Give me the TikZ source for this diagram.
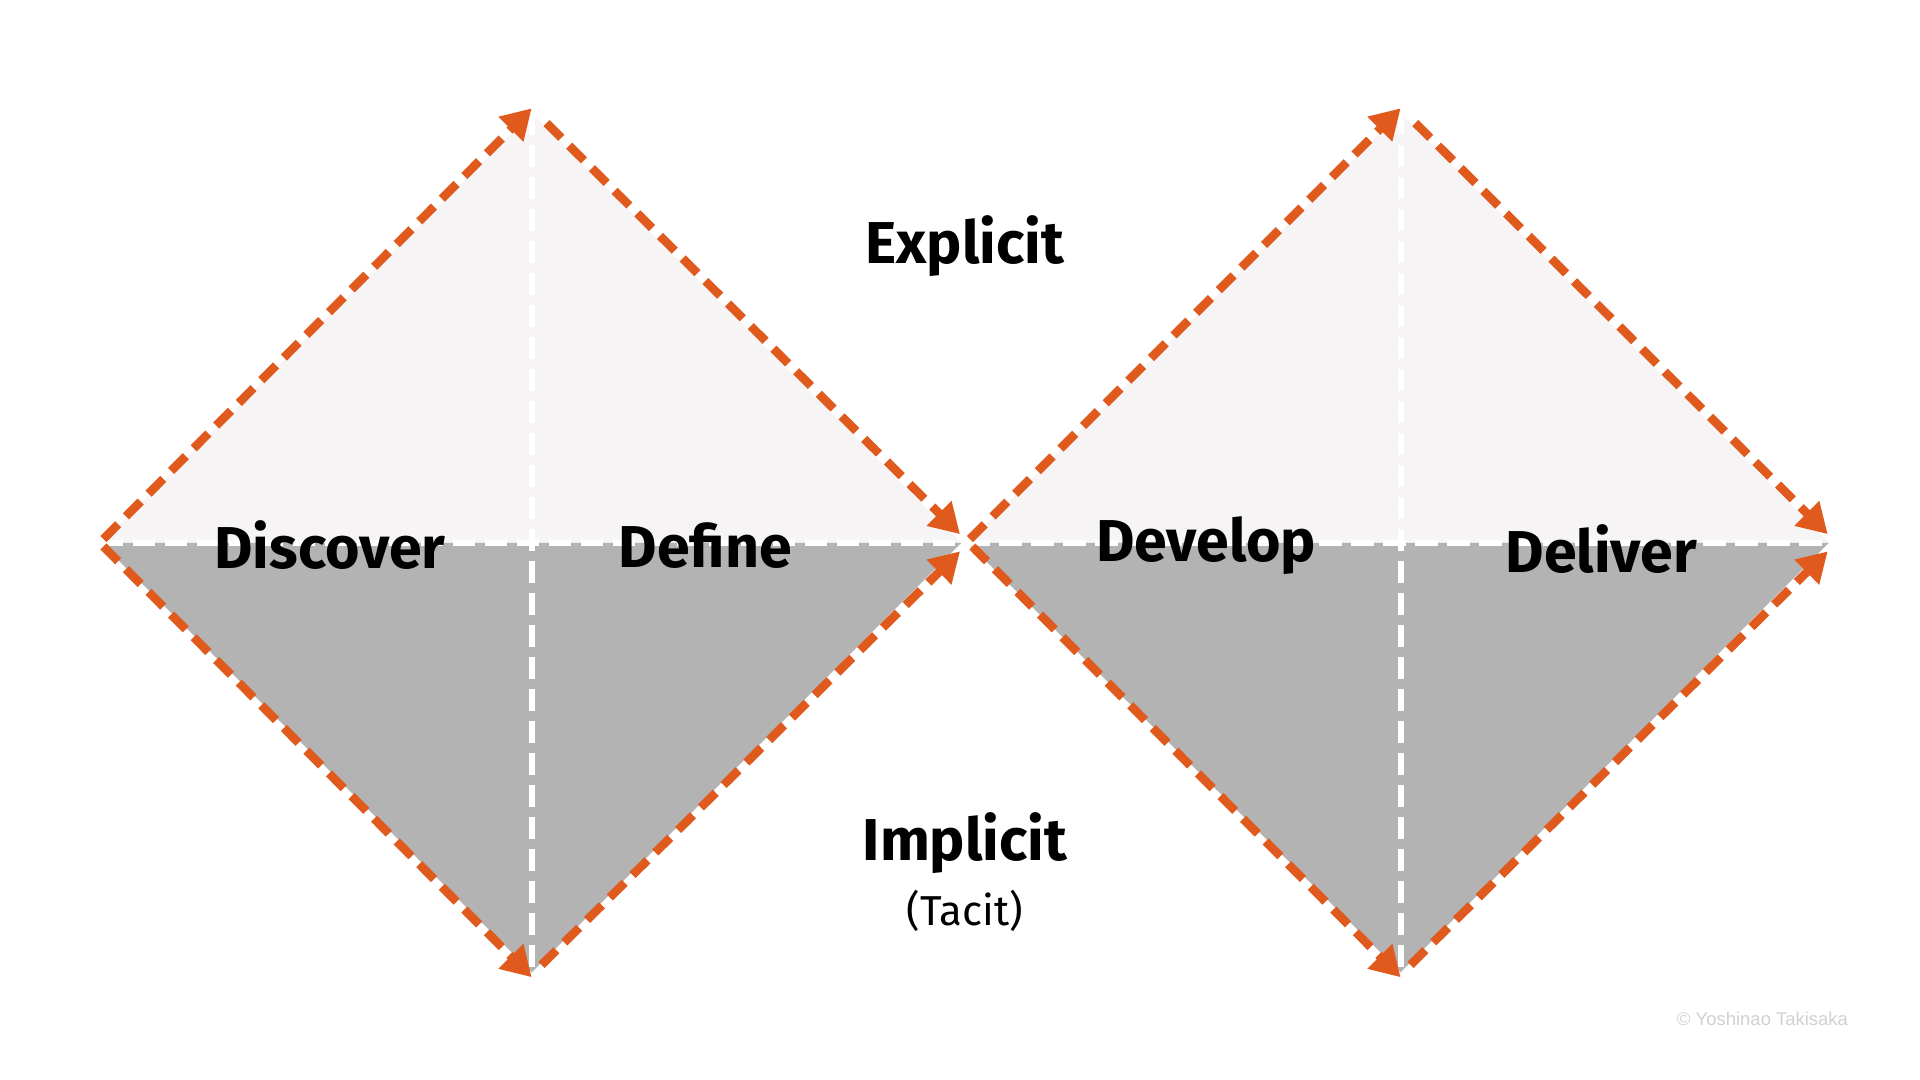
\documentclass[tikz,border=0pt]{standalone}
\usepackage{fontspec}
\setmainfont{Fira Sans}
\newfontfamily\copyfont{Liberation Sans}
\usetikzlibrary{arrows.meta}
\definecolor{orng}{HTML}{E05A1E}
\definecolor{upper}{HTML}{F6F4F5}
\definecolor{lower}{HTML}{B3B3B3}
\tikzset{
  edge/.style={draw=orng,line width=7pt,dash pattern=on 17pt off 9pt,-{Triangle[length=24pt,width=27pt]}},
  divider/.style={draw=white,line width=5pt,dash pattern=on 18pt off 8pt},
  phase/.style={font=\fontsize{48}{54}\selectfont\bfseries,text=black},
}
\begin{document}
\begin{tikzpicture}[x=1pt,y=-1pt]
\useasboundingbox[fill=white] (0,0) rectangle (1560,877);
% coordinates
\coordinate (L1) at (82,441); \coordinate (T1) at (432,92);
\coordinate (R1) at (781,441); \coordinate (B1) at (432,790);
\coordinate (L2) at (786,441); \coordinate (T2) at (1138,92);
\coordinate (R2) at (1486,441); \coordinate (B2) at (1138,790);
% fills
\fill[upper] (L1) -- (T1) -- (R1) -- cycle;
\fill[lower] (L1) -- (B1) -- (R1) -- cycle;
\fill[upper] (L2) -- (T2) -- (R2) -- cycle;
\fill[lower] (L2) -- (B2) -- (R2) -- cycle;
% dividers
\draw[divider] (L1) -- (R1);
\draw[divider] (L2) -- (R2);
\draw[divider] (T1) -- (B1);
\draw[divider] (T2) -- (B2);
% edges
\coordinate (a1) at (84,438); \coordinate (a2) at (432,88);
\coordinate (b1) at (444,100); \coordinate (b2) at (780,434);
\coordinate (c1) at (84,444); \coordinate (c2) at (432,794);
\coordinate (d1) at (440,784); \coordinate (d2) at (780,448);
\draw[edge] (a1) -- (a2);
\draw[edge] (b1) -- (b2);
\draw[edge] (c1) -- (c2);
\draw[edge] (d1) -- (d2);
\coordinate (e1) at (788,438); \coordinate (e2) at (1138,88);
\coordinate (f1) at (1150,100); \coordinate (f2) at (1485,434);
\coordinate (g1) at (790,444); \coordinate (g2) at (1138,794);
\coordinate (h1) at (1146,784); \coordinate (h2) at (1485,448);
\draw[edge] (e1) -- (e2);
\draw[edge] (f1) -- (f2);
\draw[edge] (g1) -- (g2);
\draw[edge] (h1) -- (h2);
% labels
\node[phase] (disc) at (268,443) {Discover};
\node[phase] (defi) at (573,443) {Define};
\node[phase] (deve) at (980,443) {Develop};
\node[phase] (deli) at (1301,446) {Deliver};
\node[phase] (expl) at (784,200) {Explicit};
\node[phase] (impl) at (784,685) {Implicit};
\node[font=\fontsize{34}{40}\selectfont] (taci) at (784,740) {(Tacit)};
\node[font=\copyfont\fontsize{15}{18}\selectfont,text=black!18] (copy) at (1432,828) {© Yoshinao Takisaka};
\end{tikzpicture}
\end{document}
